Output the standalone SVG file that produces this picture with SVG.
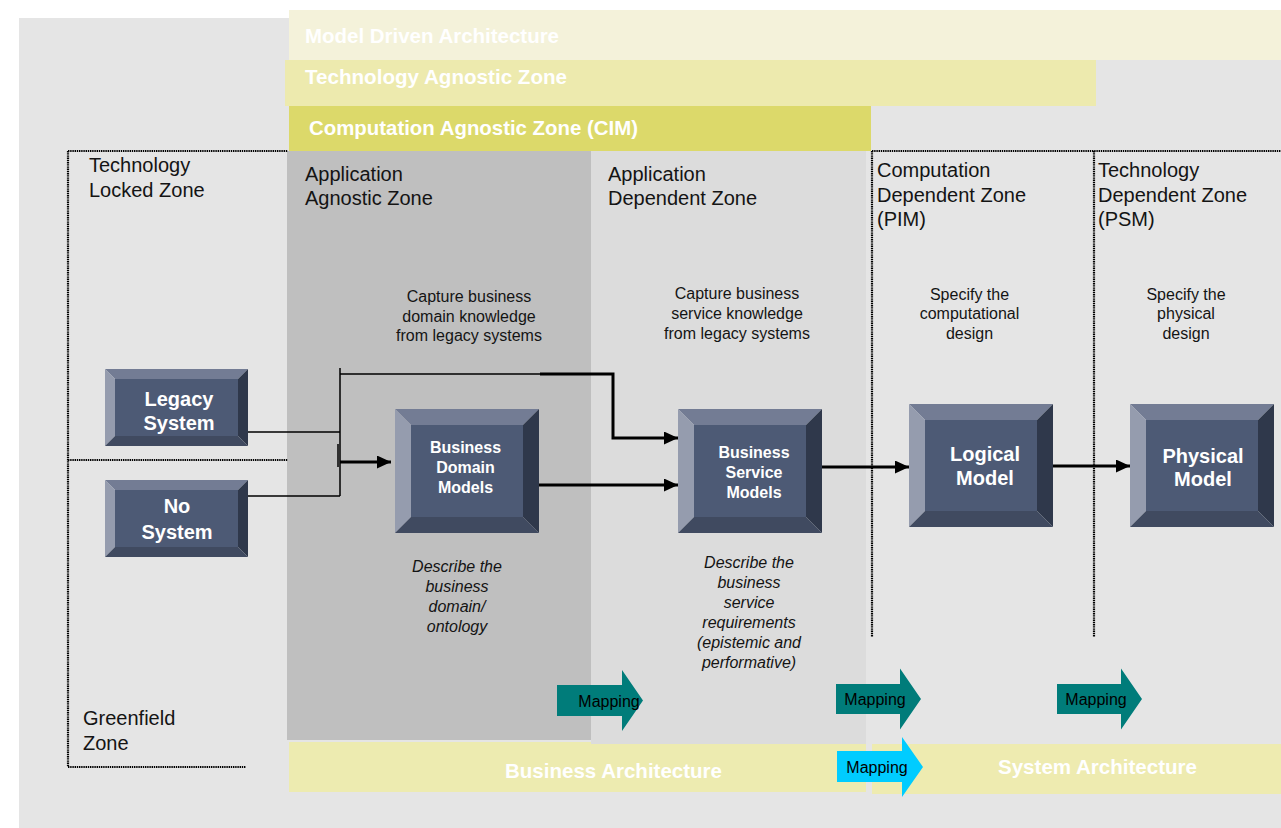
<svg xmlns="http://www.w3.org/2000/svg" width="1281" height="828" viewBox="0 0 1281 828">
  <style>
    .zone { font-family: "Liberation Sans", Arial, sans-serif; font-size: 20px; fill: #141414; }
    .note { font-family: "Liberation Sans", Arial, sans-serif; font-size: 16px; fill: #141414; text-anchor: middle; }
    .desc { font-family: "Liberation Sans", Arial, sans-serif; font-size: 16px; font-style: italic; fill: #141414; text-anchor: middle; }
    .band { font-family: "Liberation Sans", Arial, sans-serif; font-size: 21px; font-weight: bold; fill: #ffffff; }
    .lbl { font-family: "Liberation Sans", Arial, sans-serif; font-weight: bold; fill: #ffffff; text-anchor: middle; }
    .big { font-size: 20px; }
    .small { font-size: 16px; }
    .map { font-family: "Liberation Sans", Arial, sans-serif; font-size: 16px; fill: #000000; text-anchor: middle; }
    .bt { fill: #737c94; }
    .bl { fill: #959cae; }
    .br { fill: #2f384b; }
    .bb { fill: #404a60; }
    .face { fill: #4d5a75; }
    .dot { fill: none; stroke: #000000; stroke-width: 2.2; stroke-dasharray: 1.4 0.8; }
    .thin { fill: none; stroke: #000000; stroke-width: 1.5; }
    .thick { fill: none; stroke: #000000; stroke-width: 3; }
    .teal { fill: #007c7a; }
    .cyan { fill: #00ccff; }
  </style>
  <defs>
    <marker id="head" markerUnits="userSpaceOnUse" markerWidth="14" markerHeight="13" refX="14" refY="6.5" orient="auto">
      <path d="M0,0 L14,6.5 L0,13 z" fill="#000000"/>
    </marker>
  </defs>

  <!-- canvas -->
  <rect x="19" y="18" width="1262" height="810" fill="#e5e5e5"/>

  <!-- architecture bands -->
  <g id="band-mda">
    <rect x="289" y="10" width="992" height="50" fill="#f4f2da"/>
    <text class="band" x="305" y="43" textLength="254" lengthAdjust="spacingAndGlyphs">Model Driven Architecture</text>
  </g>
  <g id="band-taz">
    <rect x="285" y="60" width="811" height="46" fill="#edeaae"/>
    <text class="band" x="305" y="84" textLength="262" lengthAdjust="spacingAndGlyphs">Technology Agnostic Zone</text>
  </g>
  <g id="band-cim">
    <rect x="289" y="106" width="582" height="45" fill="#dcd96a"/>
    <text class="band" x="309" y="135" textLength="329" lengthAdjust="spacingAndGlyphs">Computation Agnostic Zone (CIM)</text>
  </g>

  <!-- application zones -->
  <g id="zone-app-agnostic">
    <rect x="287" y="151" width="305" height="589" fill="#bfbfbf"/>
    <text class="zone" x="305" y="181">Application</text>
    <text class="zone" x="305" y="205">Agnostic Zone</text>
    <text class="note" x="469" y="302">Capture business</text>
    <text class="note" x="469" y="321.5">domain knowledge</text>
    <text class="note" x="469" y="341">from legacy systems</text>
    <text class="desc" x="457" y="572">Describe the</text>
    <text class="desc" x="457" y="591.5">business</text>
    <text class="desc" x="457" y="611.5">domain/</text>
    <text class="desc" x="457" y="631.5">ontology</text>
  </g>

  <g id="band-business">
    <rect x="289" y="742" width="577" height="50" fill="#edebb0"/>
  </g>

  <g id="zone-app-dependent">
    <rect x="591" y="151" width="275" height="593" fill="#dcdcdc"/>
    <text class="zone" x="608" y="181">Application</text>
    <text class="zone" x="608" y="205">Dependent Zone</text>
    <text class="note" x="737" y="299">Capture business</text>
    <text class="note" x="737" y="319">service knowledge</text>
    <text class="note" x="737" y="339">from legacy systems</text>
    <text class="desc" x="749" y="568">Describe the</text>
    <text class="desc" x="749" y="588">business</text>
    <text class="desc" x="749" y="608">service</text>
    <text class="desc" x="749" y="627.5">requirements</text>
    <text class="desc" x="749" y="647.5">(epistemic and</text>
    <text class="desc" x="749" y="667.5">performative)</text>
  </g>

  <text class="band" x="505" y="778" textLength="217" lengthAdjust="spacingAndGlyphs">Business Architecture</text>

  <g id="band-system">
    <rect x="872" y="744" width="409" height="50" fill="#eeebb0"/>
    <text class="band" x="998" y="774" textLength="199" lengthAdjust="spacingAndGlyphs">System Architecture</text>
  </g>

  <!-- dotted zone borders -->
  <g id="zone-tech-locked">
    <path class="dot" d="M68,151 H288 M68,151 V767 H246 M68,460 H288"/>
    <text class="zone" x="89" y="172">Technology</text>
    <text class="zone" x="89" y="197">Locked Zone</text>
    <text class="zone" x="83" y="725">Greenfield</text>
    <text class="zone" x="83" y="750">Zone</text>
  </g>
  <g id="zone-pim">
    <path class="dot" d="M872,151 H1281 M872,151 V637"/>
    <text class="zone" x="877" y="177">Computation</text>
    <text class="zone" x="877" y="201.5">Dependent Zone</text>
    <text class="zone" x="877" y="226">(PIM)</text>
    <text class="note" x="969.5" y="299.5">Specify the</text>
    <text class="note" x="969.5" y="319">computational</text>
    <text class="note" x="969.5" y="338.5">design</text>
  </g>
  <g id="zone-psm">
    <path class="dot" d="M1094,151 V637"/>
    <text class="zone" x="1098" y="177">Technology</text>
    <text class="zone" x="1098" y="201.5">Dependent Zone</text>
    <text class="zone" x="1098" y="226">(PSM)</text>
    <text class="note" x="1186" y="299.5">Specify the</text>
    <text class="note" x="1186" y="319">physical</text>
    <text class="note" x="1186" y="338.5">design</text>
  </g>

  <!-- connectors -->
  <g id="connectors">
    <path class="thin" d="M248,432 H340 M248,496 H340 M340,368 V496 M340,374 H540 M338,444 V467"/>
    <path class="thick" d="M540,374 H613 V438 H678" marker-end="url(#head)"/>
    <path class="thick" d="M340,462 H391" marker-end="url(#head)"/>
    <path class="thick" d="M539,485 H678" marker-end="url(#head)"/>
    <path class="thick" d="M822,467 H909" marker-end="url(#head)"/>
    <path class="thick" d="M1053,466 H1130" marker-end="url(#head)"/>
  </g>

  <!-- nodes -->
  <g id="node-legacy-system">
    <polygon class="bt" points="105,369 248,369 238,379 115,379"/>
    <polygon class="bl" points="105,369 115,379 115,436 105,446"/>
    <polygon class="br" points="248,369 248,446 238,436 238,379"/>
    <polygon class="bb" points="105,446 115,436 238,436 248,446"/>
    <rect class="face" x="115" y="379" width="123" height="57"/>
    <text class="lbl big" x="179" y="406">Legacy</text>
    <text class="lbl big" x="179" y="430">System</text>
  </g>
  <g id="node-no-system">
    <polygon class="bt" points="105,480 248,480 238,490 115,490"/>
    <polygon class="bl" points="105,480 115,490 115,547 105,557"/>
    <polygon class="br" points="248,480 248,557 238,547 238,490"/>
    <polygon class="bb" points="105,557 115,547 238,547 248,557"/>
    <rect class="face" x="115" y="490" width="123" height="57"/>
    <text class="lbl big" x="177" y="513">No</text>
    <text class="lbl big" x="177" y="539">System</text>
  </g>
  <g id="node-business-domain-models">
    <polygon class="bt" points="395,409 539,409 523,425 411,425"/>
    <polygon class="bl" points="395,409 411,425 411,517 395,533"/>
    <polygon class="br" points="539,409 539,533 523,517 523,425"/>
    <polygon class="bb" points="395,533 411,517 523,517 539,533"/>
    <rect class="face" x="411" y="425" width="112" height="92"/>
    <text class="lbl small" x="465.5" y="452.5">Business</text>
    <text class="lbl small" x="465.5" y="472.5">Domain</text>
    <text class="lbl small" x="465.5" y="492.5">Models</text>
  </g>
  <g id="node-business-service-models">
    <polygon class="bt" points="678,409 822,409 806,425 694,425"/>
    <polygon class="bl" points="678,409 694,425 694,517 678,533"/>
    <polygon class="br" points="822,409 822,533 806,517 806,425"/>
    <polygon class="bb" points="678,533 694,517 806,517 822,533"/>
    <rect class="face" x="694" y="425" width="112" height="92"/>
    <text class="lbl small" x="754" y="458">Business</text>
    <text class="lbl small" x="754" y="478">Service</text>
    <text class="lbl small" x="754" y="498">Models</text>
  </g>
  <g id="node-logical-model">
    <polygon class="bt" points="909,404 1053,404 1037,420 925,420"/>
    <polygon class="bl" points="909,404 925,420 925,511 909,527"/>
    <polygon class="br" points="1053,404 1053,527 1037,511 1037,420"/>
    <polygon class="bb" points="909,527 925,511 1037,511 1053,527"/>
    <rect class="face" x="925" y="420" width="112" height="91"/>
    <text class="lbl big" x="985" y="461">Logical</text>
    <text class="lbl big" x="985" y="485">Model</text>
  </g>
  <g id="node-physical-model">
    <polygon class="bt" points="1130,404 1274,404 1258,420 1146,420"/>
    <polygon class="bl" points="1130,404 1146,420 1146,511 1130,527"/>
    <polygon class="br" points="1274,404 1274,527 1258,511 1258,420"/>
    <polygon class="bb" points="1130,527 1146,511 1258,511 1274,527"/>
    <rect class="face" x="1146" y="420" width="112" height="91"/>
    <text class="lbl big" x="1203" y="463">Physical</text>
    <text class="lbl big" x="1203" y="486">Model</text>
  </g>

  <!-- mapping arrows -->
  <g id="mapping-1">
    <polygon class="teal" points="557,685 622,685 622,670 643,700.5 622,731 622,716 557,716"/>
    <text class="map" x="609" y="707">Mapping</text>
  </g>
  <g id="mapping-2">
    <polygon class="teal" points="836,684 900,684 900,668.5 921,699 900,729.5 900,714 836,714"/>
    <text class="map" x="875" y="705">Mapping</text>
  </g>
  <g id="mapping-3">
    <polygon class="teal" points="1057,684 1121,684 1121,668.5 1142,699 1121,729.5 1121,714 1057,714"/>
    <text class="map" x="1096" y="705">Mapping</text>
  </g>
  <g id="mapping-4">
    <polygon class="cyan" points="837,751 902,751 902,737 923,767 902,797 902,782 837,782"/>
    <text class="map" x="877" y="773">Mapping</text>
  </g>
</svg>
